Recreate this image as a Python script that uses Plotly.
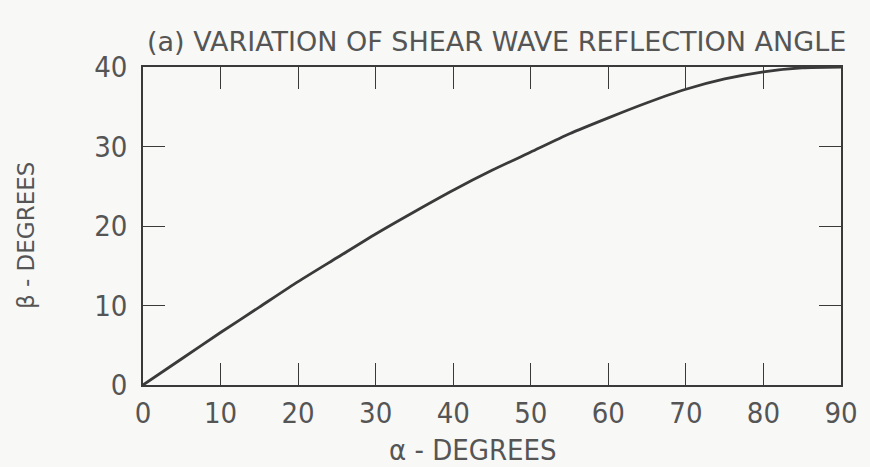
import plotly.graph_objects as go

# Shear wave reflection angle beta versus incidence angle alpha (degrees)
alpha_deg = [0, 5, 10, 15, 20, 25, 30, 35, 40, 45, 50, 55, 60, 65, 70, 75, 80, 85, 90]
beta_deg = [0, 3.3, 6.6, 9.8, 13.0, 16.0, 19.0, 21.8, 24.5, 27.0, 29.3, 31.6, 33.6, 35.5, 37.2, 38.5, 39.4, 39.9, 40.0]

x_ticks = [0, 10, 20, 30, 40, 50, 60, 70, 80, 90]
y_ticks = [0, 10, 20, 30, 40]

ink = "#3a3a3a"
text_ink = "#555555"
narrow = "DejaVu Sans Condensed, Liberation Sans Narrow, Roboto Condensed, DejaVu Sans, sans-serif"
wide = "DejaVu Sans, Verdana, sans-serif"

fig = go.Figure()
fig.add_trace(go.Scatter(
    x=alpha_deg, y=beta_deg, mode="lines",
    line=dict(color=ink, width=2.8, shape="spline", smoothing=0.6),
    hoverinfo="skip", showlegend=False,
))

axis_common = dict(
    showgrid=False, zeroline=False, showline=True, linecolor=ink, linewidth=1.6,
    mirror="ticks", ticks="inside", ticklen=22, tickwidth=1.4, tickcolor=ink,
    tickfont=dict(family=narrow, size=29, color=text_ink),
)

fig.update_xaxes(range=[0, 90], tickvals=x_ticks, ticktext=[str(v) for v in x_ticks],
                 ticklabelstandoff=1, **axis_common)
fig.update_yaxes(range=[0, 40], tickvals=y_ticks, ticktext=[str(v) for v in y_ticks],
                 ticklabelstandoff=8, **axis_common)

fig.update_layout(
    width=870, height=467,
    margin=dict(l=143, r=19, t=67, b=82),
    paper_bgcolor="#f8f8f6", plot_bgcolor="#f8f8f6",
    annotations=[
        dict(text="(a) VARIATION OF SHEAR WAVE REFLECTION ANGLE", xref="paper", yref="paper",
             x=0.506, y=1.0, xanchor="center", yanchor="bottom", yshift=8, showarrow=False,
             font=dict(family=wide, size=27, color=text_ink)),
        dict(text="β - DEGREES", xref="paper", yref="paper", x=0, y=0.5,
             xanchor="center", yanchor="middle", xshift=-117, yshift=-10, textangle=-90,
             showarrow=False, font=dict(family=wide, size=23, color=text_ink)),
        dict(text="α - DEGREES", xref="paper", yref="paper", x=0.473, y=0,
             xanchor="center", yanchor="top", yshift=-46, showarrow=False,
             font=dict(family=narrow, size=29, color=text_ink)),
    ],
)

fig.write_html("out.html")
